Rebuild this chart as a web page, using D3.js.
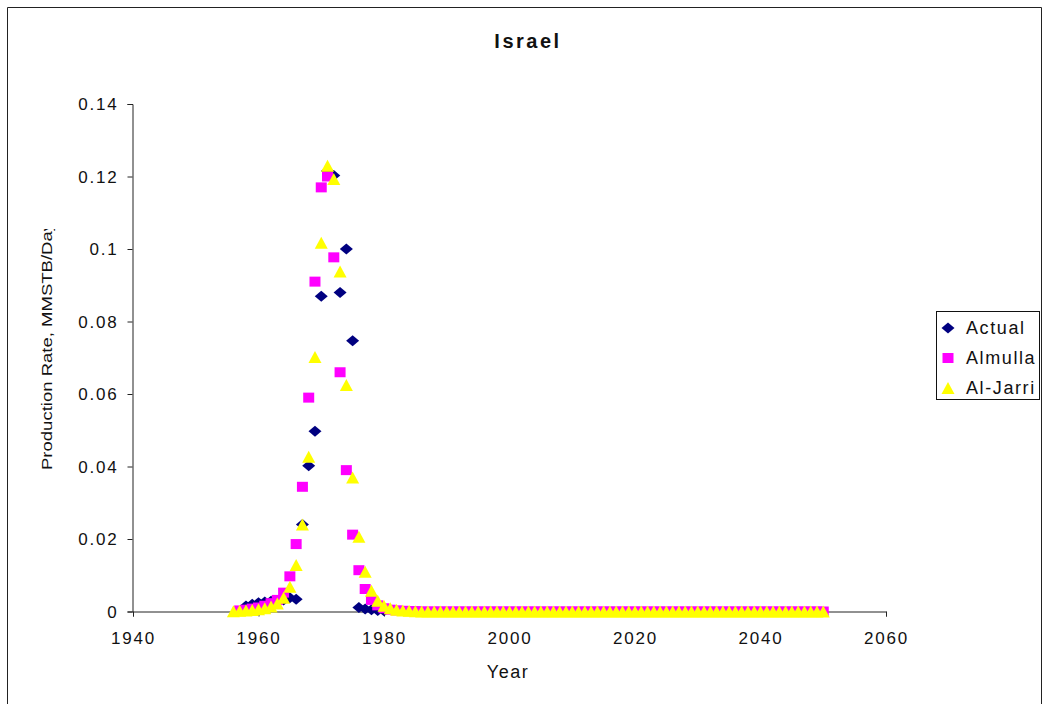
<!DOCTYPE html>
<html>
<head>
<meta charset="utf-8">
<script src="https://cdn.jsdelivr.net/npm/d3@7"></script>
<style>
  html, body { margin: 0; padding: 0; background: #fff; }
  svg { display: block; font-family: "Liberation Sans", Arial, sans-serif; }
</style>
</head>
<body>
<svg id="chart" width="1042" height="704"></svg>
<script>
// Israel oil production: actual history and two model fits (MMSTB/Day)
const actualYears = d3.range(1958, 1981);
const actualValues = [
  0.0015, 0.0020, 0.0024, 0.0026, 0.0028, 0.0030, 0.0032, 0.0038, 0.0034,
  0.0240, 0.0402, 0.0497, 0.0870, 0.1215, 0.1203, 0.0880, 0.1000, 0.0747,
  0.0011, 0.0007, 0.0005, 0.0003, 0.0002
];

const almullaYears = d3.range(1957, 2051);
const almullaValues = [
  0.0003, 0.0005, 0.0008, 0.0011, 0.0016, 0.0023, 0.0032, 0.0052, 0.0097,
  0.0186, 0.0344, 0.0590, 0.0910, 0.1170, 0.1200, 0.0977, 0.0660, 0.0390,
  0.0212, 0.0114, 0.0062, 0.0032, 0.0017, 0.0009, 0.0005, 0.0003, 0.0002,
  0.0001, 0.0001, 0, 0, 0, 0, 0, 0, 0, 0, 0, 0, 0, 0, 0, 0, 0, 0, 0, 0,
  0, 0, 0, 0, 0, 0, 0, 0, 0, 0, 0, 0, 0, 0, 0, 0, 0, 0, 0, 0, 0, 0, 0,
  0, 0, 0, 0, 0, 0, 0, 0, 0, 0, 0, 0, 0, 0, 0, 0, 0, 0, 0, 0, 0, 0, 0, 0
];

const aljarriYears = d3.range(1956, 2051);
const aljarriValues = [
  0.0001, 0.0002, 0.0003, 0.0004, 0.0006, 0.0009, 0.0014, 0.0022, 0.0038,
  0.0068, 0.0128, 0.0240, 0.0427, 0.0702, 0.1017, 0.1230, 0.1193, 0.0938,
  0.0625, 0.0370, 0.0206, 0.0110, 0.0057, 0.0030, 0.0016, 0.0009, 0.0005,
  0.0003, 0.0002, 0.0001, 0, 0, 0, 0, 0, 0, 0, 0, 0, 0, 0, 0, 0, 0, 0, 0,
  0, 0, 0, 0, 0, 0, 0, 0, 0, 0, 0, 0, 0, 0, 0, 0, 0, 0, 0, 0, 0, 0, 0, 0,
  0, 0, 0, 0, 0, 0, 0, 0, 0, 0, 0, 0, 0, 0, 0, 0, 0, 0, 0, 0, 0, 0, 0, 0, 0
];

const xTicks = [1940, 1960, 1980, 2000, 2020, 2040, 2060];
const yTicks = [0, 0.02, 0.04, 0.06, 0.08, 0.1, 0.12, 0.14];

const seriesNames = ["Actual", "Almulla", "Al-Jarri"];
const seriesColors = ["#000080", "#ff00ff", "#ffff00"];

const svg = d3.select("#chart");

// outer chart frame
svg.append("path")
  .attr("d", "M7.5,704 V7.5 H1041.5 V704")
  .attr("fill", "none").attr("stroke", "#222").attr("stroke-width", 1);

const x = d3.scaleLinear().domain([1940, 2060]).range([133, 886]);
const y = d3.scaleLinear().domain([0, 0.14]).range([611.5, 104]);

// marker outlines (centred at 0,0)
const shapes = {
  Actual: "M-6.5,0 L0,-5.5 L6.5,0 L0,5.5 Z",
  Almulla: "M-5.5,-5 H5.5 V5 H-5.5 Z",
  "Al-Jarri": "M0,-6 L6.5,6 L-6.5,6 Z"
};

// axes
const xAxis = svg.append("g").attr("transform", "translate(0,611.5)")
  .call(d3.axisBottom(x).tickValues(xTicks).tickSize(5).tickFormat(d3.format("d")));
const yAxis = svg.append("g").attr("transform", "translate(132.5,0)")
  .call(d3.axisLeft(y).tickValues(yTicks).tickSize(5).tickFormat(d => d === 0 ? "0" : String(+d.toFixed(2))));

[xAxis, yAxis].forEach(g => {
  g.select(".domain").attr("stroke", "#222");
  g.selectAll(".tick line").attr("stroke", "#222");
  g.selectAll(".tick text")
    .attr("fill", "#111")
    .style("font-family", "Liberation Sans, Arial, sans-serif")
    .style("font-size", "17px")
    .style("letter-spacing", "1.8px");
});
xAxis.selectAll(".tick text").attr("dy", null).attr("y", 32);
yAxis.selectAll(".tick text").attr("x", -14).attr("dy", "0.35em");

// title and axis titles
svg.append("text").attr("x", 528).attr("y", 48)
  .attr("text-anchor", "middle").attr("font-weight", "bold")
  .style("font-size", "20px").style("letter-spacing", "2.5px")
  .attr("fill", "#111").text("Israel");

svg.append("text").attr("x", 508).attr("y", 678)
  .attr("text-anchor", "middle")
  .style("font-size", "18px").style("letter-spacing", "1.5px")
  .attr("fill", "#111").text("Year");

svg.append("clipPath").attr("id", "ylabelClip")
  .append("rect").attr("x", 20).attr("y", 229).attr("width", 60).attr("height", 260);
svg.append("g").attr("clip-path", "url(#ylabelClip)")
  .append("text")
  .attr("transform", "translate(52,470) rotate(-90)")
  .attr("textLength", 248).attr("lengthAdjust", "spacingAndGlyphs")
  .style("font-size", "14px")
  .attr("fill", "#111").text("Production Rate, MMSTB/Day");

// data points
const series = [
  { name: "Actual", years: actualYears, values: actualValues },
  { name: "Almulla", years: almullaYears, values: almullaValues },
  { name: "Al-Jarri", years: aljarriYears, values: aljarriValues }
];

series.forEach((s, i) => {
  const pts = s.years.map((yr, k) => [yr, s.values[k]]);
  svg.append("g").selectAll("path").data(pts).join("path")
    .attr("d", shapes[s.name])
    .attr("transform", d => `translate(${x(d[0])},${y(d[1])})`)
    .attr("fill", seriesColors[i]);
});

// legend
const legend = svg.append("g");
legend.append("rect").attr("x", 936.5).attr("y", 311.5).attr("width", 103).attr("height", 88)
  .attr("fill", "#fff").attr("stroke", "#111");
seriesNames.forEach((name, i) => {
  const cy = 328 + i * 30;
  legend.append("path").attr("d", shapes[name])
    .attr("transform", `translate(948,${cy})`).attr("fill", seriesColors[i]);
  legend.append("text").attr("x", 966).attr("y", cy + 6)
    .style("font-size", "18px").style("letter-spacing", "1.6px")
    .attr("fill", "#111").text(name);
});
</script>
</body>
</html>
